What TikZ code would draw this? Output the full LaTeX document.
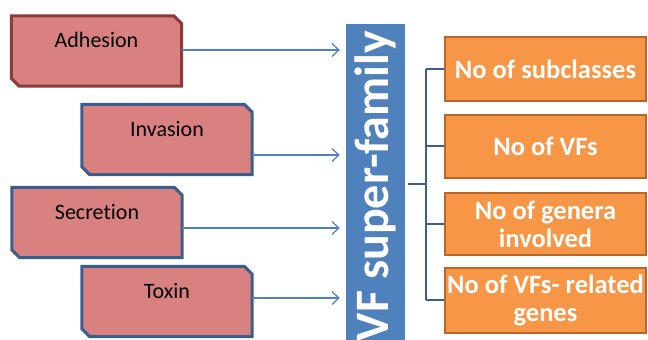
\documentclass[tikz,border=0pt]{standalone}
\usepackage{fontspec}
\setmainfont{Carlito}[Ligatures=NoCommon]
\usetikzlibrary{arrows.meta,backgrounds}
\definecolor{pinkfill}{HTML}{D98080}
\definecolor{redborder}{HTML}{8C3A3A}
\definecolor{blueborder}{HTML}{3B5E8C}
\definecolor{vfblue}{HTML}{4F81BD}
\definecolor{orfill}{HTML}{F79646}
\definecolor{orborder}{HTML}{B8672A}
\newcommand\pinkshape[2]{%
  \begin{scope}[on background layer]
    \filldraw[fill=pinkfill, draw=#2, line width=3pt, line join=miter]
      (#1.north west) -- ([xshift=-8pt]#1.north east) -- ([yshift=-8pt]#1.north east)
      -- (#1.south east) -- ([xshift=8pt]#1.south west) -- ([yshift=8pt]#1.south west) -- cycle;
  \end{scope}}
\begin{document}
\begin{tikzpicture}[x=1pt,y=1pt,
  pinkbox/.style={rectangle, inner sep=0pt, minimum width=170pt,
    text height=32pt, text depth=38pt, font=\fontsize{22}{26}\selectfont},
  arr/.style={draw=vfblue, line width=1.2pt, -{Straight Barb[length=7pt,width=13pt,line width=1.2pt]}, shorten >=6pt},
  brk/.style={draw=blueborder, line width=2pt},
  orbox/.style={rectangle, fill=orfill, draw=orborder, line width=2pt, inner sep=0pt,
    minimum width=201pt, align=center, text=white,
    font=\fontsize{26.5}{28}\selectfont\bfseries}]
\useasboundingbox (0,0) rectangle (648,340);
\begin{scope}[on background layer]
\fill[white] (0,0) rectangle (648,340);
\end{scope}

% left boxes
\node[pinkbox] (adh) at (96.5,289) {Adhesion};
\node[pinkbox] (inv) at (167,200.5) {Invasion};
\node[pinkbox] (sec) at (97,117.5) {Secretion};
\node[pinkbox] (tox) at (167,38.5) {Toxin};
\pinkshape{adh}{redborder}
\pinkshape{inv}{blueborder}
\pinkshape{sec}{blueborder}
\pinkshape{tox}{blueborder}

% central bar
\node[rectangle, fill=vfblue, inner sep=0pt, minimum width=59pt, minimum height=316pt] (vf) at (375.5,158) {};
\node[rotate=90, text=white, font=\fontsize{48}{50}\selectfont\bfseries, inner sep=0pt] (vft) at ([yshift=-4pt]vf.center) {VF super-family};

% arrows
\draw[arr] (adh.east |- 0,290) -- (vf.west |- 0,290);
\draw[arr] (inv.east |- 0,185) -- (vf.west |- 0,185);
\draw[arr] (sec.east |- 0,112) -- (vf.west |- 0,112);
\draw[arr] (tox.east |- 0,42) -- (vf.west |- 0,42);

% right boxes
\node[orbox, minimum height=64pt] (o1) at (545.5,271) {No of subclasses};
\node[orbox, minimum height=63pt] (o2) at (545.5,193.5) {No of VFs};
\node[orbox, minimum height=62pt] (o3) at (545.5,116) {No of genera\\involved};
\node[orbox, minimum height=65pt] (o4) at (545.5,39.5) {No of VFs- related\\genes};

% bracket
\coordinate (br) at (426,156);
\draw[brk] ([xshift=3pt]vf.east |- br) -- (br);
\draw[brk] (o1.west -| br) -- (o4.west -| br);
\draw[brk] (br |- o1.west) -- (o1.west);
\draw[brk] (br |- o2.west) -- (o2.west);
\draw[brk] (br |- o3.west) -- (o3.west);
\draw[brk] (br |- o4.west) -- (o4.west);
\end{tikzpicture}
\end{document}
